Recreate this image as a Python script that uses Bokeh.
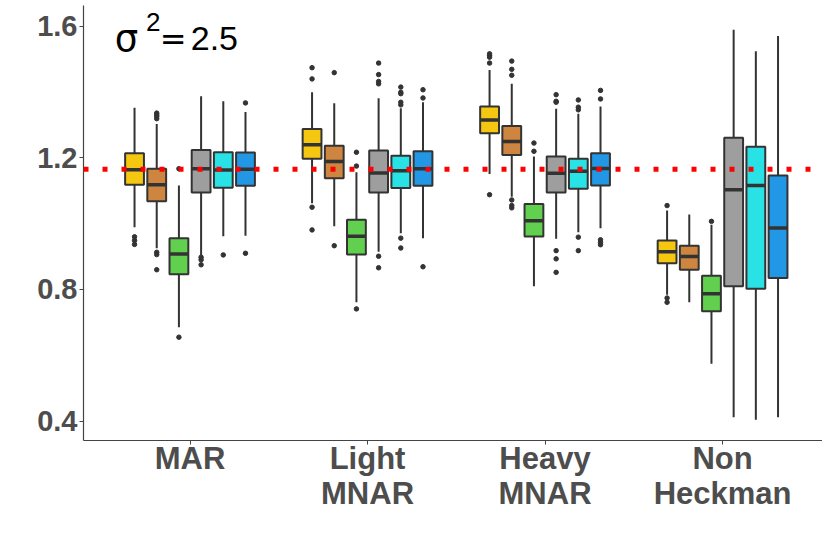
from bokeh.plotting import figure
from bokeh.models import Span, Label, FixedTicker, Range1d, ColumnDataSource
from bokeh.embed import file_html
from bokeh.resources import INLINE

groups = ["MAR", "Light\nMNAR", "Heavy\nMNAR", "Non\nHeckman"]
colors = ["#F5C710", "#CD853F", "#61D04F", "#9E9E9E", "#28E2E5", "#2297E6"]
true_value = 1.165

# per group: 6 methods
lower = [
    [0.989, 0.925, 0.685, 0.903, 0.962, 0.963],
    [1.062, 0.992, 0.761, 0.915, 0.971, 0.956],
    [1.151, 1.082, 0.810, 0.954, 0.974, 0.986],
    [0.784, 0.761, 0.574, 0.412, 0.404, 0.412],
]
q1 = [
    [1.118, 1.068, 0.846, 1.095, 1.109, 1.115],
    [1.197, 1.138, 0.906, 1.095, 1.108, 1.115],
    [1.275, 1.209, 0.961, 1.095, 1.106, 1.116],
    [0.880, 0.860, 0.734, 0.810, 0.802, 0.835],
]
median = [
    [1.164, 1.118, 0.908, 1.167, 1.163, 1.165],
    [1.240, 1.189, 0.962, 1.154, 1.161, 1.167],
    [1.315, 1.250, 1.009, 1.153, 1.159, 1.168],
    [0.915, 0.900, 0.787, 1.103, 1.116, 0.987],
]
q3 = [
    [1.214, 1.167, 0.956, 1.224, 1.217, 1.216],
    [1.288, 1.237, 1.012, 1.222, 1.206, 1.220],
    [1.356, 1.297, 1.060, 1.204, 1.197, 1.214],
    [0.949, 0.933, 0.842, 1.261, 1.234, 1.146],
]
upper = [
    [1.352, 1.303, 1.116, 1.387, 1.372, 1.339],
    [1.399, 1.366, 1.156, 1.381, 1.351, 1.369],
    [1.467, 1.425, 1.204, 1.349, 1.334, 1.356],
    [1.040, 1.028, 0.997, 1.589, 1.524, 1.570],
]
outliers = [
    [[0.960, 0.949, 0.937], [1.336, 1.331, 1.326, 1.319, 0.913, 0.906, 0.860],
     [1.167, 0.655], [0.898, 0.890, 0.875], [0.905], [1.367, 0.910]],
    [[1.474, 1.440, 1.050, 0.981], [1.459, 0.933], [1.217, 1.175, 0.741],
     [1.488, 1.453, 1.432, 1.425, 0.901, 0.866],
     [1.415, 1.399, 1.395, 1.369, 1.361, 0.956, 0.926], [1.407, 1.382, 0.869]],
    [[1.516, 1.511, 1.506, 1.488, 1.088], [1.494, 1.469, 1.451, 1.072, 1.055, 1.048],
     [1.245, 1.220], [1.392, 1.372, 1.369, 0.918, 0.893, 0.852],
     [1.376, 1.354, 1.346, 0.959, 0.918], [1.405, 1.379, 0.951, 0.943, 0.936]],
    [[1.055, 0.774, 0.761], [], [1.007], [], [], []],
]
y_ticks = [0.4, 0.8, 1.2, 1.6]

dodge = 0.125
box_w = 0.106

xs, los, q1s, meds, q3s, his, fills = [], [], [], [], [], [], []
ox, oy = [], []
for g in range(len(groups)):
    for m in range(len(colors)):
        x = (g + 1) + (m - 2.5) * dodge
        xs.append(x)
        los.append(lower[g][m]); q1s.append(q1[g][m]); meds.append(median[g][m])
        q3s.append(q3[g][m]); his.append(upper[g][m]); fills.append(colors[m])
        for v in outliers[g][m]:
            ox.append(x); oy.append(v)

src = ColumnDataSource(dict(x=xs, lo=los, q1=q1s, med=meds, q3=q3s, hi=his, fill=fills,
                            x0=[x - box_w / 2 for x in xs], x1=[x + box_w / 2 for x in xs]))

p = figure(width=822, height=527, frame_width=739, frame_height=435,
           output_backend="svg", toolbar_location=None,
           x_range=Range1d(0.4, 4.563), y_range=Range1d(0.341, 1.663),
           min_border_left=83, min_border_right=0, min_border_top=5, min_border_bottom=87)
p.outline_line_color = None
p.xgrid.visible = False
p.ygrid.visible = False
p.background_fill_color = "white"

dark = "#333333"
p.segment(x0="x", y0="lo", x1="x", y1="hi", source=src, line_color=dark, line_width=2)
p.vbar(x="x", width=box_w, bottom="q1", top="q3", source=src, fill_color="fill",
       line_color=dark, line_width=2)
p.segment(x0="x0", y0="med", x1="x1", y1="med", source=src, line_color=dark, line_width=3.5)
p.scatter(x=ox, y=oy, size=4.5, color=dark)

p.add_layout(Span(location=true_value, dimension="width", line_color="#FF0000",
                  line_width=5, line_dash="5 14", level="overlay"))

font = "Liberation Sans"
for ax in (p.xaxis[0], p.yaxis[0]):
    ax.axis_line_color = "#444444"
    ax.axis_line_width = 1.2
    ax.major_tick_line_color = "#444444"
    ax.major_tick_in = 0
    ax.major_tick_out = 4
    ax.minor_tick_line_color = None
    ax.major_label_text_font = font
    ax.major_label_text_font_style = "bold"
    ax.major_label_text_color = "#4D4D4D"
p.yaxis.major_label_text_font_size = "29px"
p.yaxis.major_label_standoff = 2
p.xaxis.major_label_text_font_size = "31px"
p.xaxis.major_label_standoff = -4
p.xaxis.major_label_text_line_height = 1.0

p.xaxis.ticker = FixedTicker(ticks=[1, 2, 3, 4])
p.xaxis.major_label_overrides = {i + 1: g for i, g in enumerate(groups)}
p.yaxis.ticker = FixedTicker(ticks=y_ticks)
p.yaxis.major_label_overrides = {t: f"{t:.1f}" for t in y_ticks}

p.add_layout(Label(x=0.576, y=1.564, text="σ", text_font="DejaVu Sans", text_font_size="37px",
                   text_color="black", text_baseline="alphabetic"))
p.add_layout(Label(x=0.752, y=1.614, text="2", text_font=font, text_font_size="26px",
                   text_color="black", text_baseline="alphabetic"))
p.add_layout(Label(x=0.830, y=1.561, text="=", text_font="DejaVu Sans", text_font_size="32px",
                   text_color="black", text_baseline="alphabetic"))
p.add_layout(Label(x=1.004, y=1.564, text="2.5", text_font=font, text_font_size="34px",
                   text_color="black", text_baseline="alphabetic"))

open("out.html", "w").write(file_html(p, INLINE))
